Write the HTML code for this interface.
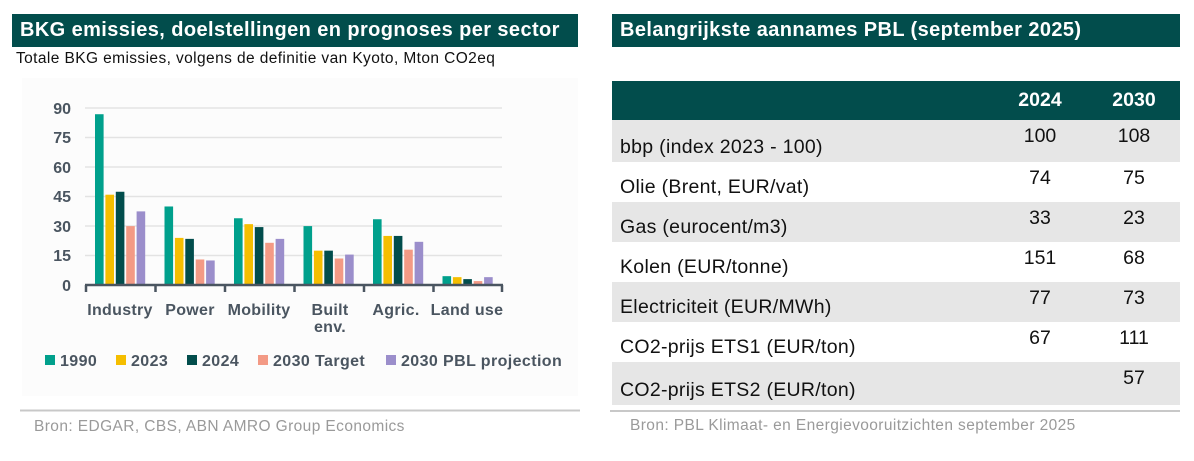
<!DOCTYPE html>
<html><head><meta charset="utf-8"><style>
body{margin:0;width:1194px;height:461px;background:#fff;font-family:"Liberation Sans",sans-serif;position:relative;overflow:hidden}
.hdr{position:absolute;background:#024d4c;color:#fff;font-weight:bold;font-size:20px;letter-spacing:0.4px;line-height:32px;padding-left:8px;box-sizing:border-box;white-space:nowrap}
.abs{position:absolute;white-space:nowrap}
.row{position:absolute;left:612px;width:568px;height:40px;font-size:19.5px;color:#111}
.row .l{position:absolute;left:8px;bottom:3px;letter-spacing:0.3px}
.row .a{position:absolute;left:1010px;width:60px;margin-left:-612px;text-align:center;top:5px}
.row .b{position:absolute;left:1104px;width:60px;margin-left:-612px;text-align:center;top:5px}
.g{background:#e6e6e6}
</style></head><body>
<div class="hdr" style="left:12px;top:14px;width:566px;height:33px">BKG emissies, doelstellingen en prognoses per sector</div>
<div class="abs" style="left:16px;top:50px;font-size:15.5px;letter-spacing:0.4px;color:#111">Totale BKG emissies, volgens de definitie van Kyoto, Mton CO2eq</div>
<div class="abs" style="left:22px;top:78px;width:556px;height:318px;background:#fcfcfc"></div>
<svg class="abs" style="left:0;top:0" width="600" height="461">
<g stroke="#e3e3e3" stroke-width="1.5">
<line x1="85" x2="502" y1="108" y2="108"/><line x1="85" x2="502" y1="137.5" y2="137.5"/><line x1="85" x2="502" y1="167" y2="167"/><line x1="85" x2="502" y1="196.5" y2="196.5"/><line x1="85" x2="502" y1="226" y2="226"/><line x1="85" x2="502" y1="255.5" y2="255.5"/></g>
<g font-size="16" font-weight="bold" fill="#4a5560" text-anchor="end">
<text x="71" y="114">90</text><text x="71" y="143">75</text><text x="71" y="173">60</text><text x="71" y="202">45</text><text x="71" y="232">30</text><text x="71" y="261">15</text><text x="71" y="291">0</text></g>
<g id="bars"></g>
<g stroke="#4a5560" stroke-width="2.5"><line x1="85" x2="503" y1="285" y2="285"/>
<line x1="86" x2="86" y1="285" y2="292"/><line x1="155.5" x2="155.5" y1="285" y2="292"/><line x1="225" x2="225" y1="285" y2="292"/><line x1="294.5" x2="294.5" y1="285" y2="292"/><line x1="364" x2="364" y1="285" y2="292"/><line x1="433.5" x2="433.5" y1="285" y2="292"/><line x1="502" x2="502" y1="285" y2="292"/></g>
<g font-size="16" font-weight="bold" fill="#4a5560" text-anchor="middle" letter-spacing="0.3">
<text x="120" y="315">Industry</text><text x="190" y="315">Power</text><text x="259" y="315">Mobility</text><text x="330" y="315">Built</text><text x="330" y="332">env.</text><text x="396" y="315">Agric.</text><text x="467" y="315">Land use</text></g>
<g font-size="16" font-weight="bold" fill="#4a5560" letter-spacing="0.4">
<rect x="45" y="355" width="10" height="10" fill="#00a08c"/><text x="60" y="366">1990</text>
<rect x="116" y="355" width="10" height="10" fill="#f5be00"/><text x="131" y="366">2023</text>
<rect x="187" y="355" width="10" height="10" fill="#024d4c"/><text x="202" y="366">2024</text>
<rect x="258" y="355" width="10" height="10" fill="#f39a85"/><text x="273" y="366">2030 Target</text>
<rect x="386" y="355" width="10" height="10" fill="#9b8ecb"/><text x="401" y="366">2030 PBL projection</text></g>
<line x1="20" x2="580" y1="410.5" y2="410.5" stroke="#c8c8c8" stroke-width="2"/>
<text x="34" y="431" font-size="15.5" letter-spacing="0.4" fill="#9a9a9a">Bron: EDGAR, CBS, ABN AMRO Group Economics</text>
</svg>
<div class="hdr" style="left:612px;top:14px;width:568px;height:33px">Belangrijkste aannames PBL (september 2025)</div>
<div class="abs" style="left:612px;top:81px;width:568px;height:39px;background:#024d4c"></div>
<div class="abs" style="left:1010px;top:89px;width:60px;text-align:center;color:#fff;font-weight:bold;font-size:19.5px">2024</div>
<div class="abs" style="left:1104px;top:89px;width:60px;text-align:center;color:#fff;font-weight:bold;font-size:19.5px">2030</div>
<div class="row g" style="top:120px;height:42px"><span class="l">bbp (index 2023 - 100)</span><span class="a">100</span><span class="b">108</span></div>
<div class="row" style="top:162px"><span class="l">Olie (Brent, EUR/vat)</span><span class="a">74</span><span class="b">75</span></div>
<div class="row g" style="top:202px"><span class="l">Gas (eurocent/m3)</span><span class="a">33</span><span class="b">23</span></div>
<div class="row" style="top:242px"><span class="l">Kolen (EUR/tonne)</span><span class="a">151</span><span class="b">68</span></div>
<div class="row g" style="top:282px"><span class="l">Electriciteit (EUR/MWh)</span><span class="a">77</span><span class="b">73</span></div>
<div class="row" style="top:322px"><span class="l">CO2-prijs ETS1 (EUR/ton)</span><span class="a">67</span><span class="b">111</span></div>
<div class="row g" style="top:362px;height:43px"><span class="l">CO2-prijs ETS2 (EUR/ton)</span><span class="a"></span><span class="b">57</span></div>
<div class="abs" style="left:610px;top:410px;width:570px;height:2px;background:#c8c8c8"></div>
<div class="abs" style="left:630px;top:417px;font-size:15.5px;letter-spacing:0.4px;color:#9a9a9a">Bron: PBL Klimaat- en Energievooruitzichten september 2025</div>
<script>
var d=[[87,46,47.5,30,37.5],[40,24,23.5,13,12.5],[34,31,29.5,21.5,23.5],[30,17.5,17.5,13.5,15.5],[33.5,25,25,18,22],[4.5,4,3,2,4]];
var c=["#00a08c","#f5be00","#024d4c","#f39a85","#9b8ecb"],s="";
for(var i=0;i<6;i++)for(var j=0;j<5;j++){var h=d[i][j]*1.963,x=95+i*69.5+j*10.4;s+='<rect x="'+x+'" y="'+(285-h)+'" width="8.6" height="'+h+'" fill="'+c[j]+'"/>';}
document.getElementById("bars").innerHTML=s;
</script>
</body></html>
